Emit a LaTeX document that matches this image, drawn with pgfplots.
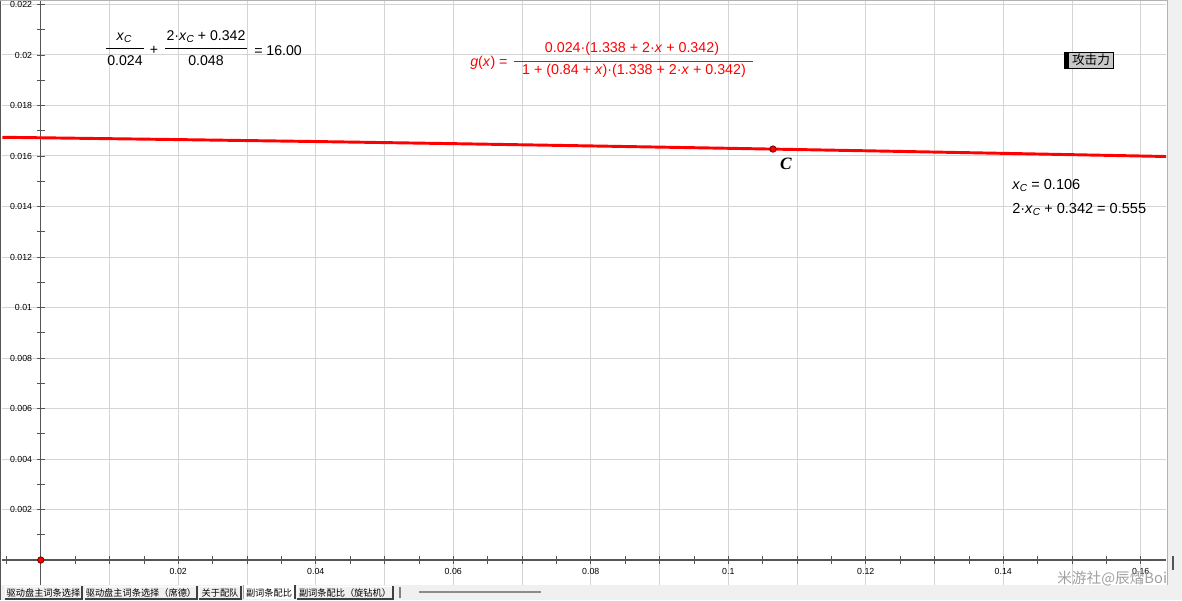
\documentclass[border=0pt]{standalone}
\usepackage{fontspec}
\setmainfont{Liberation Sans}
\newfontfamily\cjk{Noto Sans CJK SC}
\newfontfamily\serifC{Liberation Serif}
\usepackage{pgfplots}
\pgfplotsset{compat=1.18}
\definecolor{gridc}{RGB}{212,212,212}
\definecolor{axc}{RGB}{85,85,85}
\definecolor{ggred}{RGB}{255,0,0}
\definecolor{ptdark}{RGB}{110,0,0}
\definecolor{panel}{RGB}{240,240,240}
\definecolor{wm}{RGB}{160,160,160}
\definecolor{btn}{RGB}{200,200,200}
\newcommand\xC{\textit{x}\raisebox{-0.35ex}{\fontsize{7.6}{8}\selectfont\textit{C}}}
\begin{document}
\begin{tikzpicture}
\path[use as bounding box] (0,0) rectangle (886.5pt,-450pt);
\begin{axis}[
  at={(1.5pt,0pt)}, anchor=north west,
  scale only axis, width=873pt, height=438.75pt,
  xmin=-0.005644, xmax=0.16367, ymin=-0.00099, ymax=0.022178,
  axis lines=middle,
  axis line style={draw=axc, line width=0.8pt, -},
  xtick={0.01,0.02,0.03,0.04,0.05,0.06,0.07,0.08,0.09,0.10,0.11,0.12,0.13,0.14,0.15,0.16},
  xticklabels={,0.02,,0.04,,0.06,,0.08,,0.1,,0.12,,0.14,,0.16},
  minor xtick={-0.005,0.005,0.015,0.025,0.035,0.045,0.055,0.065,0.075,0.085,0.095,0.105,0.115,0.125,0.135,0.145,0.155},
  ytick={0.002,0.004,0.006,0.008,0.010,0.012,0.014,0.016,0.018,0.020,0.022},
  yticklabels={0.002,0.004,0.006,0.008,0.01,0.012,0.014,0.016,0.018,0.02,0.022},
  minor ytick={0.001,0.003,0.005,0.007,0.009,0.011,0.013,0.015,0.017,0.019,0.021},
  grid=major,
  major grid style={draw=gridc, line width=0.75pt},
  tick align=center,
  major tick length=6pt, minor tick length=6pt,
  tick style={draw=axc, line width=0.6pt},
  tick label style={font=\fontsize{6.6}{7}\selectfont, text=black},
  /pgf/number format/assume math mode=true,
  scaled ticks=false,
]
\addplot[ggred, line width=2.2pt] coordinates {
 (-0.0056,0.016741) (0,0.016722) (0.02,0.016650) (0.04,0.016573)
 (0.06,0.016489) (0.08,0.016399) (0.10,0.016305) (0.12,0.016207)
 (0.14,0.016105) (0.16,0.016000) (0.1637,0.015980)};
\addplot[only marks, mark=*, mark size=2.4pt, mark options={fill=ggred, draw=ptdark, line width=0.6pt}] coordinates {(0.1065,0.016274)};
\addplot[only marks, mark=*, mark size=2.4pt, mark options={fill=ggred, draw=ptdark, line width=0.6pt}, clip=false] coordinates {(0,0)};
\end{axis}
\begin{scope}[x=0.75pt, y=-0.75pt]
  % C label
  \node[font=\serifC\bfseries\itshape\fontsize{13}{14}\selectfont, inner sep=0] at (786,164) {C};
  % top-left formula
  \begin{scope}[every node/.style={font=\fontsize{10.6}{12}\selectfont, inner sep=0, text=black}]
    \node[anchor=base] at (124,40) {\xC};
    \draw[black, line width=0.75pt] (106,48)--(144,48);
    \node[anchor=base] at (125,65) {0.024};
    \node[anchor=base] at (154,54) {+};
    \node[anchor=base] at (206,40) {2·\xC\ + 0.342};
    \draw[black, line width=0.75pt] (165,48)--(247,48);
    \node[anchor=base] at (206,65) {0.048};
    \node[anchor=base west] at (254,55) {= 16.00};
  \end{scope}
  \begin{scope}[every node/.style={font=\fontsize{10.9}{12}\selectfont, inner sep=0, text=black}]
    \node[anchor=base west] at (1012,189) {\xC\ = 0.106};
    \node[anchor=base west] at (1012,213) {2·\xC\ + 0.342 = 0.555};
  \end{scope}
  % red formula
  \begin{scope}[every node/.style={font=\fontsize{10.7}{12}\selectfont, inner sep=0, text=ggred}]
    \node[anchor=base west] at (470,66) {\textit{g}(\textit{x}) =};
    \draw[ggred, line width=0.75pt] (514,61)--(753,61);
    \node[anchor=base] at (632,52) {0.024·(1.338 + 2·\textit{x} + 0.342)};
    \node[anchor=base] at (634,74) {1 + (0.84 + \textit{x})·(1.338 + 2·\textit{x} + 0.342)};
  \end{scope}
  % button
  \fill[btn] (1064,52) rectangle (1113,68);
  \draw[black, line width=0.75pt] (1064,52) rectangle (1113,68);
  \fill[black] (1064,52) rectangle (1069,68);
  \node[font=\cjk\fontsize{9.5}{10}\selectfont, inner sep=0] at (1091,60) {攻击力};
  % window frame pieces
  \fill[panel] (0,585) rectangle (1168,600);
  \fill[panel] (1167,0) rectangle (1182,600);
  \draw[gray!60, line width=0.6pt] (1167,0)--(1167,585);
  \draw[axc, line width=1.2pt] (0.6,0)--(0.6,600);
  \draw[gray!60, line width=0.6pt] (0,0.3)--(1167,0.3);
  % tabs
  \begin{scope}[every node/.style={font=\cjk\fontsize{6.9}{7}\selectfont, inner sep=0, text=black}]
    \foreach \a/\b/\t in {5/82/驱动盘主词条选择, 85/197/驱动盘主词条选择（席德）, 199/241/关于配队, 297/393/副词条配比（旋钻机）}{
      \fill[panel] (\a,586) rectangle (\b,599);
      \draw[white, line width=0.6pt] (\a,599)--(\a,586)--(\b,586);
      \draw[black!75, line width=0.8pt] (\b,586)--(\b,599)--(\a,599);
      \node at ({(\a+\b)/2},592.8) {\t};
    }
    \fill[white] (243,585) rectangle (295,599);
    \draw[black!75, line width=0.8pt] (295,585)--(295,599);
    \draw[gray!70, line width=0.6pt] (243,599)--(243,585);
    \node at (269,592.5) {副词条配比};
  \end{scope}
  \draw[gray, line width=0.8pt] (400,587)--(400,598);
  \draw[gray!90, line width=1.5pt] (419,591.5)--(541,591.5);
  \draw[axc, line width=1pt] (1173,556)--(1173,570);
  % watermark
  \node[anchor=base west, text=wm, font=\cjk\fontsize{11}{12}\selectfont, inner sep=0] at (1057,583) {米游社@辰熠Boi};
\end{scope}
\end{tikzpicture}
\end{document}
